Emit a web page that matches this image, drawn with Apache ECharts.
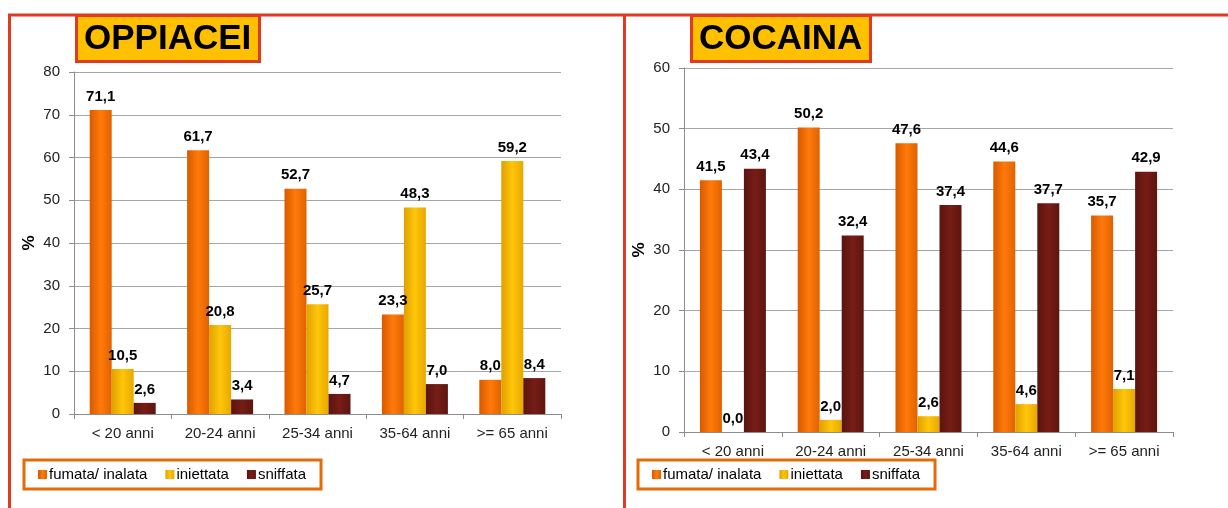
<!DOCTYPE html>
<html>
<head>
<meta charset="utf-8">
<script src="https://cdn.jsdelivr.net/npm/echarts@6/dist/echarts.min.js"></script>
<style>
  html, body { margin: 0; padding: 0; background: #fff; }
  #chart { width: 1228px; height: 508px; }
</style>
</head>
<body>
<div id="chart"></div>
<script>
// dati
var categories = ['< 20 anni', '20-24 anni', '25-34 anni', '35-64 anni', '>= 65 anni'];
var seriesNames = ['fumata/ inalata', 'iniettata', 'sniffata'];

// OPPIACEI
var oppFumata = [71.1, 61.7, 52.7, 23.3, 8.0];
var oppIniettata = [10.5, 20.8, 25.7, 48.3, 59.2];
var oppSniffata = [2.6, 3.4, 4.7, 7.0, 8.4];

// COCAINA
var cocFumata = [41.5, 50.2, 47.6, 44.6, 35.7];
var cocIniettata = [0.0, 2.0, 2.6, 4.6, 7.1];
var cocSniffata = [43.4, 32.4, 37.4, 37.7, 42.9];

var FONT = '"Liberation Sans", Arial, sans-serif';

// colori barre (effetto "3d" con gradiente orizzontale)
function grad(c1, c2, c3) {
  return new echarts.graphic.LinearGradient(0, 0, 1, 0, [
    { offset: 0, color: c1 },
    { offset: 0.5, color: c2 },
    { offset: 1, color: c3 }
  ]);
}
var colors = [
  grad('#D85A00', '#FF7A0A', '#E06200'),
  grad('#E0A000', '#FFC60A', '#E8A800'),
  grad('#5A140F', '#771D16', '#5E1510')
];

function fmt(p) {
  return p.value.toFixed(1).replace('.', ',');
}

function makeSeries(data, idx, axisIdx) {
  return {
    name: seriesNames[idx],
    type: 'bar',
    xAxisIndex: axisIdx,
    yAxisIndex: axisIdx,
    data: data,
    barWidth: 22,
    barGap: '0%',
    itemStyle: { color: colors[idx] },
    label: {
      show: true,
      position: 'top',
      distance: 6,
      formatter: fmt,
      fontFamily: FONT,
      fontWeight: 'bold',
      fontSize: 15,
      color: '#000'
    }
  };
}

function xAxisCfg(gridIdx) {
  return {
    type: 'category',
    gridIndex: gridIdx,
    data: categories,
    axisLine: { lineStyle: { color: '#8C8C8C', width: 1 } },
    axisTick: { show: true, length: 5, lineStyle: { color: '#8C8C8C' } },
    axisLabel: { fontFamily: FONT, fontSize: 15, color: '#222', margin: 12 }
  };
}

function yAxisCfg(gridIdx, max) {
  return {
    type: 'value',
    gridIndex: gridIdx,
    min: 0,
    max: max,
    interval: 10,
    name: '%',
    nameLocation: 'middle',
    nameRotate: 90,
    nameGap: 36,
    nameTextStyle: { fontFamily: FONT, fontWeight: 'bold', fontSize: 17, color: '#000' },
    axisLine: { show: true, lineStyle: { color: '#8C8C8C' } },
    axisTick: { show: true, length: 5, lineStyle: { color: '#8C8C8C' } },
    axisLabel: { fontFamily: FONT, fontSize: 15, color: '#222', margin: 14 },
    splitLine: { lineStyle: { color: '#A6A6A6' } }
  };
}

function titleCfg(text, left) {
  return {
    text: text,
    left: left,
    top: 15,
    padding: [7, 8, 5, 8],
    backgroundColor: '#FFC000',
    borderColor: '#E03A22',
    borderWidth: 3,
    textStyle: { fontFamily: FONT, fontWeight: 'bold', fontSize: 35, color: '#000' }
  };
}

function legendCfg(left) {
  return {
    left: left,
    top: 460,
    data: seriesNames,
    icon: 'rect',
    itemWidth: 9,
    itemHeight: 9,
    itemGap: 18,
    padding: [7, 15, 7, 14],
    borderColor: '#E36C09',
    borderWidth: 3,
    textStyle: { fontFamily: FONT, fontSize: 15, color: '#000', padding: [0, 0, 0, -3] }
  };
}

var chart = echarts.init(document.getElementById('chart'));
chart.setOption({
  animation: false,
  title: [titleCfg('OPPIACEI', 76), titleCfg('COCAINA', 691)],
  legend: [legendCfg(24), legendCfg(638)],
  grid: [
    { left: 74, top: 72, width: 487, height: 342 },
    { left: 684, top: 68, width: 489, height: 364 }
  ],
  xAxis: [xAxisCfg(0), xAxisCfg(1)],
  yAxis: [yAxisCfg(0, 80), yAxisCfg(1, 60)],
  series: [
    makeSeries(oppFumata, 0, 0),
    makeSeries(oppIniettata, 1, 0),
    makeSeries(oppSniffata, 2, 0),
    makeSeries(cocFumata, 0, 1),
    makeSeries(cocIniettata, 1, 1),
    makeSeries(cocSniffata, 2, 1)
  ],
  // cornici rosse dei pannelli
  graphic: [
    { type: 'line', shape: { x1: 8, y1: 15, x2: 1228, y2: 15 }, style: { stroke: '#E03A22', lineWidth: 3 }, z: 0 },
    { type: 'line', shape: { x1: 9.5, y1: 14, x2: 9.5, y2: 508 }, style: { stroke: '#E03A22', lineWidth: 3 }, z: 0 },
    { type: 'line', shape: { x1: 624.5, y1: 14, x2: 624.5, y2: 508 }, style: { stroke: '#E03A22', lineWidth: 3 }, z: 0 }
  ]
});
</script>
</body>
</html>
